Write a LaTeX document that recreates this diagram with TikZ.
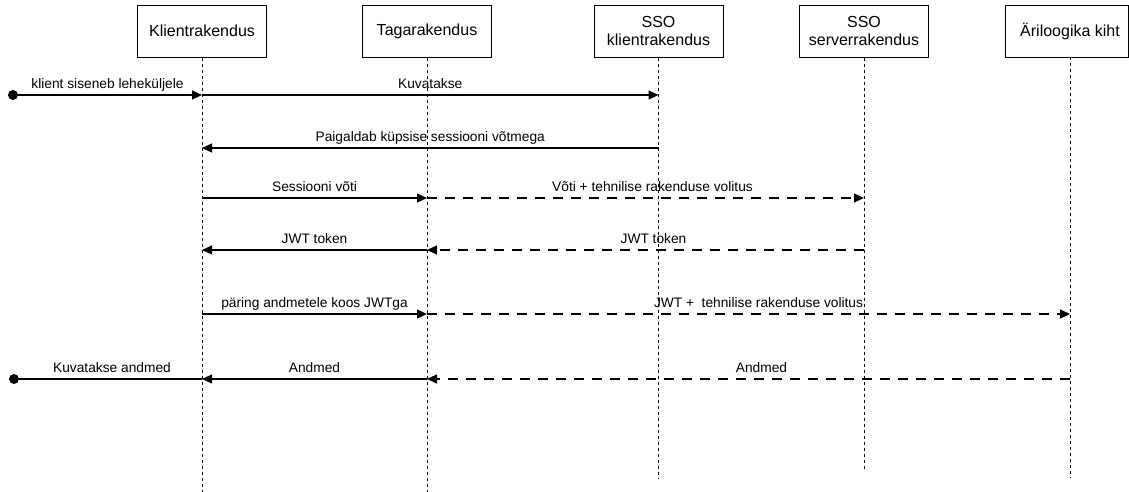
\documentclass[tikz,border=0pt]{standalone}
\usepackage{fontspec}
\setmainfont{Liberation Sans}
\usetikzlibrary{arrows.meta,calc}
\begin{document}
\begin{tikzpicture}[x=1pt,y=-1pt,
  actor/.style={draw,line width=1pt,minimum width=129pt,minimum height=52pt,inner sep=0pt,
    align=center,font=\fontsize{16}{18}\selectfont},
  lifeline/.style={line width=1pt,dash pattern=on 3pt off 3pt},
  call/.style={line width=1.1pt,-{Triangle[length=10pt,width=9pt]}},
  reply/.style={call,dash pattern=on 10pt off 8pt},
  lbl/.style={anchor=base,inner sep=0pt,yshift=7pt,font=\fontsize{13.75}{16}\selectfont},
  dot/.style={circle,fill,inner sep=0pt,minimum size=10pt}]
\useasboundingbox (0,0) rectangle (1129,491);

% participants
\node[actor] (k)  at (202,31)    {Klientrakendus};
\node[actor] (t)  at (427,31)    {Tagarakendus};
\node[actor] (sc) at (658.5,31)  {SSO\\klientrakendus};
\node[actor] (ss) at (864,31)    {SSO\\serverrakendus};
\node[actor,minimum width=123pt] (a) at (1066.5,31) {\hspace*{7pt}Äriloogika kiht};
\coordinate (aL) at (1070,57);

% lifelines
\draw[lifeline] (k.south)  -- ++(0,434);
\draw[lifeline] (t.south)  -- ++(0,434);
\draw[lifeline] (sc.south) -- ++(0,421);
\draw[lifeline] (ss.south) -- ++(0,412);
\draw[lifeline] (aL)       -- ++(0,421);

% message rows
\coordinate (r1) at (0,95);
\coordinate (r2) at (0,148);
\coordinate (r3) at (0,198);
\coordinate (r4) at (0,250);
\coordinate (r5) at (0,314);
\coordinate (r6) at (0,379);

% 1: page opened, view requested
\node[dot] (d1) at (13,95) {};
\draw[call] (d1.center) -- (k |- r1) node[lbl,midway] {klient siseneb leheküljele};
\draw[call] (k |- r1) -- (sc |- r1) node[lbl,midway] {Kuvatakse};

% 2: session cookie
\draw[call] (sc |- r2) -- (k |- r2) node[lbl,midway] {Paigaldab küpsise sessiooni võtmega};

% 3: session key to backend and SSO server
\draw[call] (k |- r3) -- (t |- r3) node[lbl,midway] {Sessiooni võti};
\draw[reply] (t |- r3) -- (ss |- r3) node[lbl,midway,xshift=7pt] {Võti + tehnilise rakenduse volitus};

% 4: JWT back to the client
\draw[reply] (ss |- r4) -- (t |- r4) node[lbl,midway,xshift=8pt] {JWT token};
\draw[call] (t |- r4) -- (k |- r4) node[lbl,midway] {JWT token};

% 5: data request with JWT
\draw[call] (k |- r5) -- (t |- r5) node[lbl,midway] {päring andmetele koos JWTga};
\draw[reply] (t |- r5) -- (aL |- r5) node[lbl,midway,xshift=10pt] {JWT + \ tehnilise rakenduse volitus};

% 6: data returned and shown
\draw[reply] (aL |- r6) -- (t |- r6) node[lbl,midway,xshift=13pt] {Andmed};
\draw[call] (t |- r6) -- (k |- r6) node[lbl,midway] {Andmed};
\node[dot] (d6) at (14,379) {};
\draw[line width=1.1pt] (k |- r6) -- (d6.center) node[lbl,midway,xshift=4pt] {Kuvatakse andmed};
\end{tikzpicture}
\end{document}
